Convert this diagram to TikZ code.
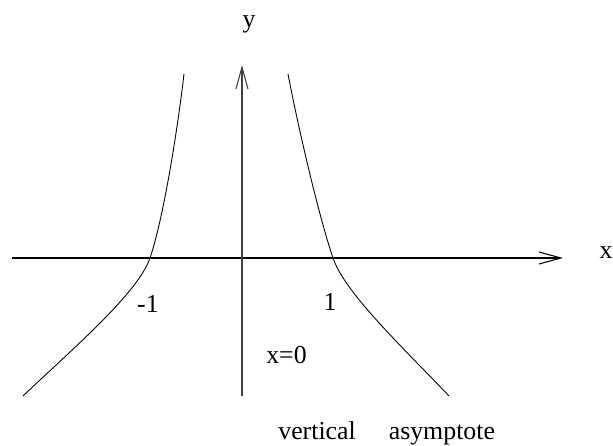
\documentclass[tikz,border=0pt]{standalone}
\usepackage{fontspec}
\setmainfont{Liberation Serif}
\usetikzlibrary{arrows.meta}

\begin{document}
\begin{tikzpicture}[
    axis/.style={line width=0.6pt, -{Straight Barb[length=4.4mm, width=2.4mm, line width=0.6pt]}},
    branch/.style={line width=0.5pt},
    every node/.style={font=\fontsize{14.7pt}{17pt}\selectfont, inner sep=0pt}]
    \useasboundingbox (-4.84,-3.76) rectangle (7.42,5.16);

    % --- 坐标轴 ---
    \draw[axis] (-4.6,0) -- (6.42,0);
    \draw[axis, black!75] (0,-2.76) -- (0,3.86);
    \node (xlab) at (7.28,0.11) {x};
    \node (ylab) at (0.14,4.68) {y};

    % --- 两支曲线 ---
    \draw[branch] (-1.16,3.68) .. controls (-1.30,2.48) and (-1.58,0.76) .. (-1.84,0)
        .. controls (-2.08,-0.70) and (-3.38,-1.81) .. (-4.38,-2.76);
    \draw[branch] (0.92,3.68) .. controls (1.15,2.48) and (1.56,0.76) .. (1.82,0)
        .. controls (2.06,-0.70) and (3.19,-1.76) .. (4.14,-2.76);

    % 交点标注
    \node (m1) at (-1.88,-0.92) {-1};
    \node (p1) at (1.76,-0.88) {1};

    % 渐近线说明
    \node (asy) at (0.89,-1.94) {x=0};
    \node[anchor=base west] (va) at (0.72,-3.64) {vertical\hspace{0.66cm}asymptote};
\end{tikzpicture}
\end{document}
